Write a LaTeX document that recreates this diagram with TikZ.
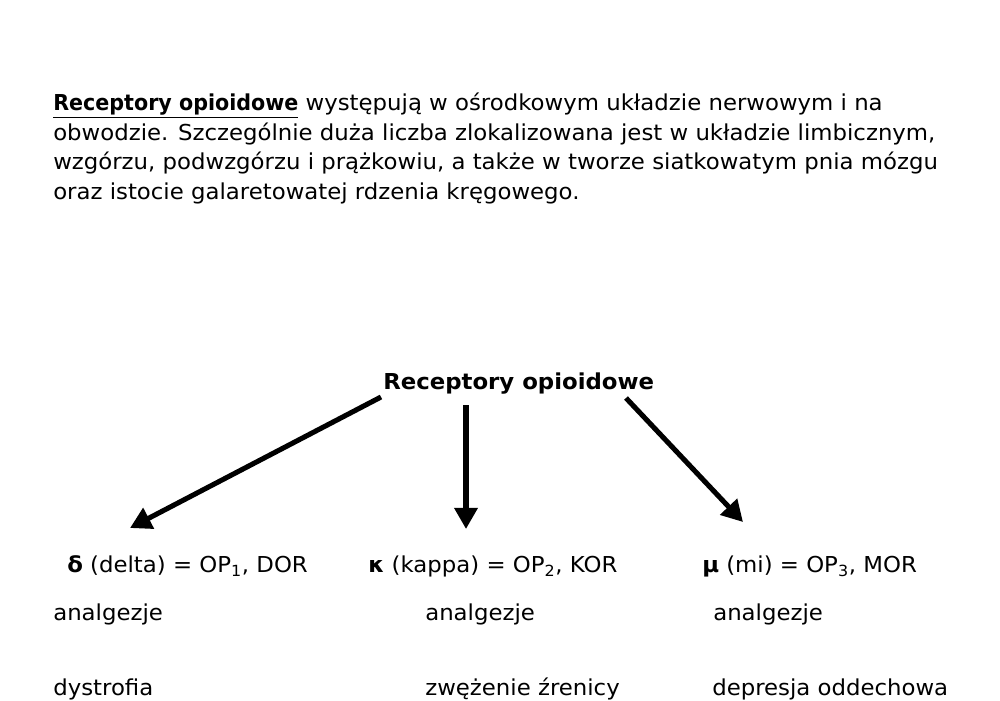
\documentclass[tikz,border=0pt]{standalone}
\usepackage{fontspec}
\setmainfont[FakeStretch=1.04]{DejaVu Sans}
\usetikzlibrary{arrows.meta}
\tikzset{
  txt/.style={anchor=base west, inner sep=0pt, font=\fontsize{15.6}{18}\selectfont},
  ttl/.style={anchor=base west, inner sep=0pt, font=\fontsize{15.6}{18}\selectfont\bfseries},
  arr/.style={line width=3.6pt, -{Triangle[length=15pt,width=16pt]}}
}
\begin{document}
\begin{tikzpicture}[x=0.025cm,y=-0.025cm]
\useasboundingbox (0,0) rectangle (1000,700);
% paragraph
\node[txt] (p1) at (53,110.5) {\underline{\scalebox{0.905}[1]{\textbf{Receptory opioidowe}}} występują w ośrodkowym układzie nerwowym i na};
\node[txt] (p2) at (53,140) {obwodzie. Szczególnie duża liczba zlokalizowana jest w układzie limbicznym,};
\node[txt] (p3) at (53,169.5) {wzgórzu, podwzgórzu i prążkowiu, a także w tworze siatkowatym pnia mózgu};
\node[txt] (p4) at (53,199) {oraz istocie galaretowatej rdzenia kręgowego.};
% title
\node[ttl] (t) at (383,389) {Receptory opioidowe};
% receptors
\node[txt] (d) at (67,572) {\textbf{δ} (delta) = OP\textsubscript{1}, DOR};
\node[txt] (k) at (368,572) {\textbf{κ} (kappa) = OP\textsubscript{2}, KOR};
\node[txt] (m) at (702,572) {\textbf{μ} (mi) = OP\textsubscript{3}, MOR};
\node[txt] (d1) at (53,620) {analgezje};
\node[txt] (k1) at (425,620) {analgezje};
\node[txt] (m1) at (713,620) {analgezje};
\node[txt] (d2) at (53,695) {dystrofia};
\node[txt] (k2) at (425,695) {zwężenie źrenicy};
\node[txt] (m2) at (712,695) {depresja oddechowa};
% arrows
\coordinate (s1) at (381,397);
\coordinate (e1) at (130,528);
\coordinate (s2) at (466,405);
\coordinate (e2) at (466,529);
\coordinate (s3) at (626,398);
\coordinate (e3) at (743,522);
\draw[arr] (s1) -- (e1);
\draw[arr] (s2) -- (e2);
\draw[arr] (s3) -- (e3);
\end{tikzpicture}
\end{document}
